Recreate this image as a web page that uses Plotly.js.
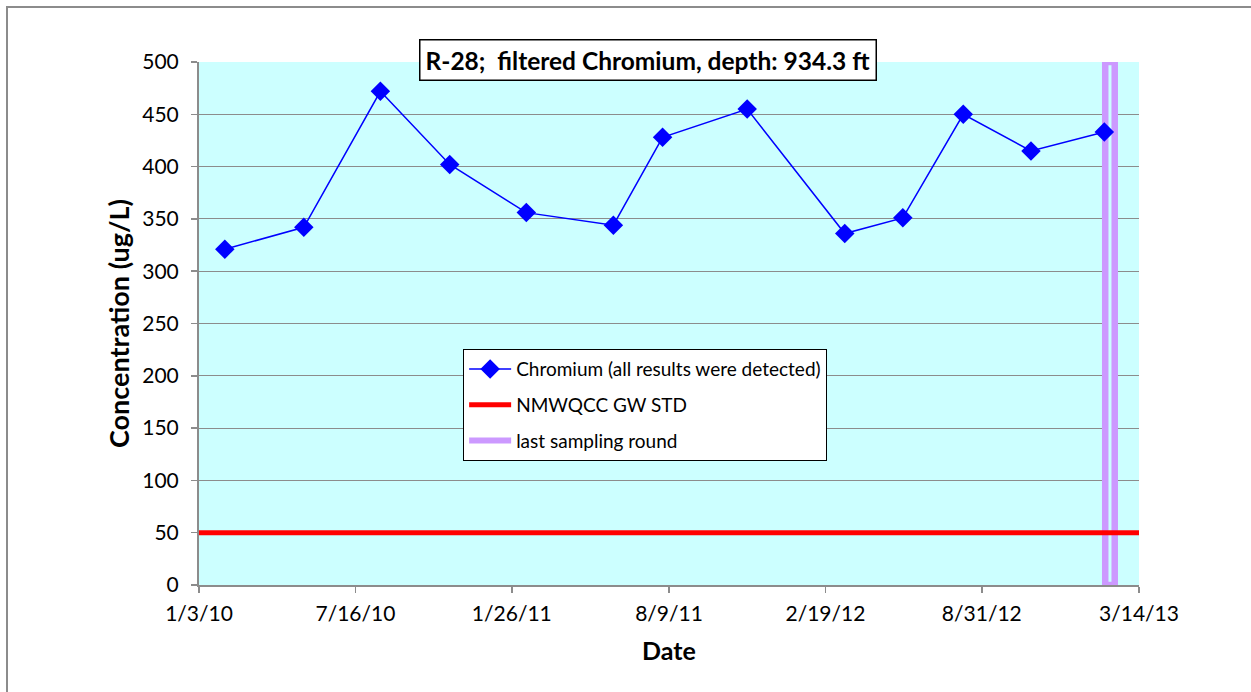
<!DOCTYPE html>
<html>
<head>
<meta charset="utf-8">
<script src="https://cdn.plot.ly/plotly-3.0.1.min.js"></script>
<style>
html,body{margin:0;padding:0;background:#fff;}
#chart{width:1251px;height:692px;position:absolute;left:0;top:0;}
#frame{position:absolute;left:6px;top:6px;width:1400px;height:800px;border-left:2px solid #8c8c8c;border-top:2px solid #8c8c8c;pointer-events:none;}
</style>
</head>
<body>
<div id="chart"></div>
<div id="frame"></div>
<script>
// Data
const sampleDates = ['2010-02-04','2010-05-13','2010-08-16','2010-11-10','2011-02-13','2011-06-01','2011-08-01','2011-11-14','2012-03-14','2012-05-25','2012-08-08','2012-10-31','2013-01-30'];
const chromium = [321, 342, 472, 402, 356, 344, 428, 455, 336, 351, 450, 415, 433];
const stdDates = ['2010-01-03','2013-03-14'];
const stdValues = [50, 50];
const lastRoundDate = ['2013-02-06'];
const lastRoundValue = [500];
const tickDates = ['2010-01-03','2010-07-16','2011-01-26','2011-08-09','2012-02-19','2012-08-31','2013-03-14'];
const tickLabels = ['1/3/10','7/16/10','1/26/11','8/9/11','2/19/12','8/31/12','3/14/13'];
const seriesNames = ['Chromium (all results were detected)','NMWQCC GW STD','last sampling round'];
const titleText = 'R-28;  filtered Chromium, depth: 934.3 ft';

const FONT = 'Lato, "Open Sans", sans-serif';
const DAY = 86400000;

const traces = [
  {
    type:'bar', x:lastRoundDate, y:lastRoundValue, width:[11.8*DAY],
    marker:{color:'#ccffff', line:{color:'#cc99ff', width:6.5}},
    showlegend:false, hoverinfo:'skip'
  },
  {
    type:'scatter', mode:'lines', x:stdDates, y:stdValues,
    name:seriesNames[1], line:{color:'#ff0000', width:5},
    legendgroup:'b', legendrank:2
  },
  {
    type:'scatter', mode:'lines+markers', x:sampleDates, y:chromium,
    name:seriesNames[0], line:{color:'#0000ff', width:1.5},
    marker:{symbol:'diamond', size:15, color:'#0000ff'},
    legendgroup:'a', legendrank:1
  },
  {
    type:'scatter', mode:'lines', x:[null], y:[null],
    name:seriesNames[2], line:{color:'#cc99ff', width:6},
    legendgroup:'c', legendrank:3
  }
];

const layout = {
  width:1251, height:692,
  margin:{l:199, r:112, t:62, b:107},
  paper_bgcolor:'#ffffff',
  plot_bgcolor:'#ccffff',
  font:{family:FONT, size:21, color:'#000'},
  showlegend:true,
  legend:{
    x:0.281, y:0.451, xanchor:'left', yanchor:'top',
    bgcolor:'#ffffff', bordercolor:'#000000', borderwidth:1,
    font:{family:FONT, size:19, color:'#000'},
    traceorder:'grouped', tracegroupgap:8,
    itemwidth:42
  },
  xaxis:{
    type:'date',
    range:['2010-01-03','2013-03-14'],
    tickmode:'array', tickvals:tickDates, ticktext:tickLabels,
    ticks:'outside', ticklen:6, tickwidth:1.5, tickcolor:'#8c8c8c',
    ticklabelstandoff:3,
    showline:true, linecolor:'#8c8c8c', linewidth:2,
    showgrid:false, zeroline:false,
    tickfont:{family:FONT, size:21, color:'#000'},
    title:{text:'<b>Date</b>', font:{family:FONT, size:25, color:'#000'}, standoff:18}
  },
  yaxis:{
    range:[0,500], dtick:50, tick0:0,
    ticks:'outside', ticklen:6, tickwidth:1.5, tickcolor:'#8c8c8c',
    ticklabelstandoff:8,
    showline:true, linecolor:'#8c8c8c', linewidth:2,
    showgrid:true, gridcolor:'#8c8c8c', gridwidth:1,
    zeroline:false,
    tickfont:{family:FONT, size:21, color:'#000'},
    title:{text:'<b>Concentration (ug/L)</b>', font:{family:FONT, size:27, color:'#000'}, standoff:5}
  },
  bargap:0,
  annotations:[{
    text:'<b>'+titleText+'</b>',
    xref:'paper', yref:'paper', x:0.4777, y:1.003,
    xanchor:'center', yanchor:'middle', showarrow:false,
    font:{family:FONT, size:24.5, color:'#000'},
    bgcolor:'#ffffff', bordercolor:'#000000', borderwidth:1.5, borderpad:5
  }]
};

Plotly.newPlot('chart', traces, layout, {displayModeBar:false, staticPlot:true});
</script>
</body>
</html>
